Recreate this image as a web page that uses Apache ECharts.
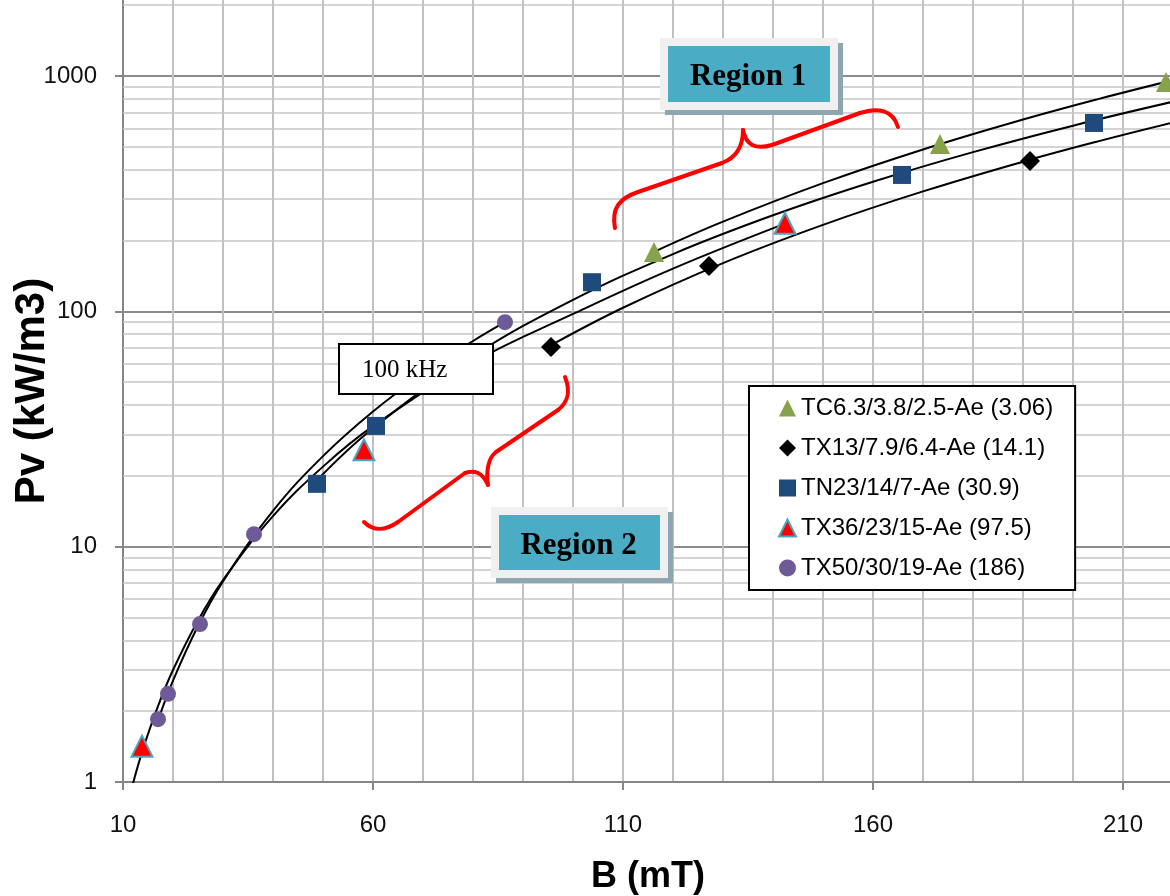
<!DOCTYPE html>
<html>
<head>
<meta charset="utf-8">
<script src="https://cdn.jsdelivr.net/npm/echarts@6/dist/echarts.min.js"></script>
<style>
html,body{margin:0;padding:0;background:#fff;}
#chart{width:1170px;height:896px;}
</style>
</head>
<body>
<div id="chart"></div>
<script>
// ---- data ----
const seriesNames = ['TC6.3/3.8/2.5-Ae (3.06)', 'TX13/7.9/6.4-Ae (14.1)', 'TN23/14/7-Ae (30.9)', 'TX36/23/15-Ae (97.5)', 'TX50/30/19-Ae (186)'];

const tcB = [116.2, 173.4, 218.6];
const tcPv = [179, 514, 944];
const tx13B = [95.6, 127.2, 191.4];
const tx13Pv = [70.6, 156, 436];
const tn23B = [48.8, 60.6, 103.8, 165.8, 204.2];
const tn23Pv = [18.5, 32.6, 133, 380, 632];
const tx36B = [13.8, 58.2, 142.4];
const tx36Pv = [1.42, 25.8, 237];
const tx50B = [17, 19, 25.4, 36.2, 86.4];
const tx50Pv = [1.85, 2.37, 4.69, 11.3, 90];

// trend curves
const trendTcB = [116.2, 130, 150, 170, 190, 205, 220];
const trendTcPv = [179.1, 240.6, 350.6, 487.6, 653.4, 798.0, 960.9];
const trendTx13B = [95.6, 110, 130, 150, 170, 190, 205, 220];
const trendTx13Pv = [71.8, 103.6, 160.4, 233.2, 323.5, 432.7, 527.8, 634.7];
const trendTn23B = [48.8, 60, 80, 100, 120, 140, 160, 180, 200, 220];
const trendTn23Pv = [19.16, 31.84, 64.61, 111.9, 175.2, 256.0, 355.4, 475.0, 615.5, 778.1];
const trendTx36B = [12, 14, 17, 20, 25, 30, 40, 50, 60, 80, 100, 120, 142.4];
const trendTx36Pv = [0.986, 1.379, 2.102, 2.991, 4.858, 7.216, 13.48, 21.89, 32.52, 60.75, 97.5, 152, 236];
const trendTx50B = [17, 20, 25, 30, 40, 50, 60, 70, 80, 86.4];
const trendTx50Pv = [1.825, 2.695, 4.601, 7.124, 14.20, 24.25, 37.54, 54.33, 74.83, 90.0];

// log-axis minor grid values
const minorGridValues = [2,3,4,5,6,7,8,9,20,30,40,50,60,70,80,90,200,300,400,500,600,700,800,900,2000];

const xMin = 10, xMax = 220, yMin = 1, yMax = 2105;

function pairs(xs, ys) { return xs.map((x, i) => [x, ys[i]]); }

const chart = echarts.init(document.getElementById('chart'), null, {renderer: 'canvas'});

const FONT = "'Liberation Sans', Arial, sans-serif";
const SERIF = "'Liberation Serif', 'Times New Roman', serif";
const markerStyles = [
  {symbol: 'triangle', symbolSize: 20, itemStyle: {color: '#86a24a', opacity: 1}},
  {symbol: 'diamond', symbolSize: 20, itemStyle: {color: '#000000', opacity: 1}},
  {symbol: 'rect', symbolSize: 18, itemStyle: {color: '#1f4a7c', opacity: 1}},
  {symbol: 'triangle', symbolSize: 21, itemStyle: {color: '#ff0000', borderColor: '#4aa6bf', borderWidth: 2, opacity: 1}},
  {symbol: 'circle', symbolSize: 16, itemStyle: {color: '#6d5a96', opacity: 1}}
];
const markerData = [pairs(tcB, tcPv), pairs(tx13B, tx13Pv), pairs(tn23B, tn23Pv), pairs(tx36B, tx36Pv), pairs(tx50B, tx50Pv)];
const trendData = [pairs(trendTcB, trendTcPv), pairs(trendTx13B, trendTx13Pv), pairs(trendTn23B, trendTn23Pv), pairs(trendTx36B, trendTx36Pv), pairs(trendTx50B, trendTx50Pv)];

const series = [];
series.push({
  type: 'line', name: 'grid', data: [], z: 1, symbol: 'none', silent: true,
  markLine: {
    z: 1, silent: true, symbol: ['none', 'none'], animation: false,
    label: {show: false},
    lineStyle: {color: '#c6c6c6', width: 1.5, type: 'solid'},
    data: minorGridValues.map(v => ({yAxis: v}))
  }
});
trendData.forEach((d, i) => {
  series.push({
    type: 'line', name: 'trend' + i, data: d, smooth: 0.4, symbol: 'none', z: 4,
    lineStyle: {color: '#000', width: 2}, silent: true, animation: false
  });
});
markerData.forEach((d, i) => {
  series.push(Object.assign({
    type: 'scatter', name: seriesNames[i], data: d, z: 5, animation: false
  }, markerStyles[i]));
});

const ZG = 100;
function regionBox(x, y, w, h, label) {
  return {
    type: 'group', z: ZG,
    children: [
      {type: 'rect', z: ZG, shape: {x: x + 5, y: y + 5, width: w, height: h}, style: {fill: '#8ea6b0'}},
      {type: 'rect', z: ZG + 1, shape: {x: x, y: y, width: w, height: h}, style: {fill: '#f0f0f0'}},
      {type: 'rect', z: ZG + 2, shape: {x: x + 8, y: y + 8, width: w - 16, height: h - 16}, style: {fill: '#4bacc6'}},
      {type: 'text', z: ZG + 3, x: x + w / 2 - 1, y: y + h / 2 + 3, style: {text: label, font: 'bold 31px ' + SERIF, fill: '#000', align: 'center', verticalAlign: 'middle'}}
    ]
  };
}

const braceStyle = {fill: null, stroke: '#ff0000', lineWidth: 4, lineCap: 'round'};
function bz(x1, y1, c1x, c1y, c2x, c2y, x2, y2) {
  return {type: 'bezierCurve', z: ZG, shape: {x1: x1, y1: y1, cpx1: c1x, cpy1: c1y, cpx2: c2x, cpy2: c2y, x2: x2, y2: y2}, style: braceStyle};
}
function ln(x1, y1, x2, y2) {
  return {type: 'line', z: ZG, shape: {x1: x1, y1: y1, x2: x2, y2: y2}, style: braceStyle};
}

const option = {
  backgroundColor: '#fff',
  animation: false,
  grid: {left: 123, top: 0, width: 1050, height: 782, containLabel: false, outerBoundsMode: 'none'},
  xAxis: [{
    type: 'value', min: xMin, max: xMax, interval: 50,
    axisLine: {show: true, onZero: false, lineStyle: {color: '#868686', width: 2}},
    axisTick: {show: true, inside: false, length: 8, lineStyle: {color: '#868686', width: 2}},
    axisLabel: {show: true, margin: 31, showMaxLabel: false, color: '#111', fontSize: 24, fontFamily: FONT, formatter: v => String(v)},
    splitLine: {show: false},
    name: 'B (mT)', nameLocation: 'middle', nameGap: 77, nameMoveOverlap: false,
    nameTextStyle: {fontSize: 36, fontWeight: 'bold', fontFamily: FONT, color: '#000'}
  }, {
    type: 'value', min: xMin, max: xMax, interval: 10, position: 'bottom',
    axisLine: {show: false}, axisTick: {show: false}, axisLabel: {show: false},
    splitLine: {show: true, lineStyle: {color: '#c0c0c0', width: 2}}
  }],
  yAxis: [{
    type: 'log', min: yMin, max: yMax, logBase: 10,
    axisLine: {show: true, lineStyle: {color: '#868686', width: 2}},
    axisTick: {show: true, inside: false, length: 8, lineStyle: {color: '#868686', width: 2}},
    axisLabel: {show: true, margin: 26, showMaxLabel: false, color: '#111', fontSize: 24, fontFamily: FONT, formatter: v => String(Math.round(v))},
    splitLine: {show: true, showMaxLine: false, lineStyle: {color: '#8c8c8c', width: 2}},
    name: 'Pv (kW/m3)', nameLocation: 'middle', nameGap: 70, nameRotate: 90, nameMoveOverlap: false,
    nameTextStyle: {fontSize: 42, fontWeight: 'bold', fontFamily: FONT, color: '#000'}
  }],
  legend: {
    show: true, orient: 'vertical', left: 749, top: 386, z: 20,
    data: seriesNames,
    backgroundColor: '#fff', borderColor: '#000', borderWidth: 2,
    padding: [10, 22, 10, 29], itemGap: 16, itemWidth: 17, itemHeight: 17,
    textStyle: {fontSize: 24, fontFamily: FONT, color: '#000', lineHeight: 24},
    selectedMode: false
  },
  graphic: [
    regionBox(660, 38, 178, 72, 'Region 1'),
    regionBox(491, 507, 177, 71, 'Region 2'),
    {
      type: 'group', z: ZG, children: [
        {type: 'rect', z: ZG, shape: {x: 339, y: 344, width: 154, height: 50}, style: {fill: '#fff', stroke: '#000', lineWidth: 2}},
        {type: 'text', z: ZG + 1, x: 362, y: 370, style: {text: '100 kHz', font: '25px ' + SERIF, fill: '#000', align: 'left', verticalAlign: 'middle'}}
      ]
    },
    bz(615, 228, 611, 208, 620, 198, 638, 192),
    ln(638, 192, 722, 163),
    bz(722, 163, 738, 157, 743, 145, 743, 130),
    bz(743, 130, 746, 145, 755, 150, 772, 145),
    ln(772, 145, 860, 113),
    bz(860, 113, 878, 107, 893, 110, 898, 127),
    bz(565, 377, 571, 392, 568, 402, 558, 410),
    ln(558, 410, 496, 452),
    bz(496, 452, 488, 458, 486, 472, 488, 485),
    bz(488, 485, 482, 472, 475, 470, 465, 473),
    ln(465, 473, 398, 522),
    bz(398, 522, 385, 531, 373, 531, 364, 522)
  ],
  series: series
};

chart.setOption(option);
</script>
</body>
</html>
